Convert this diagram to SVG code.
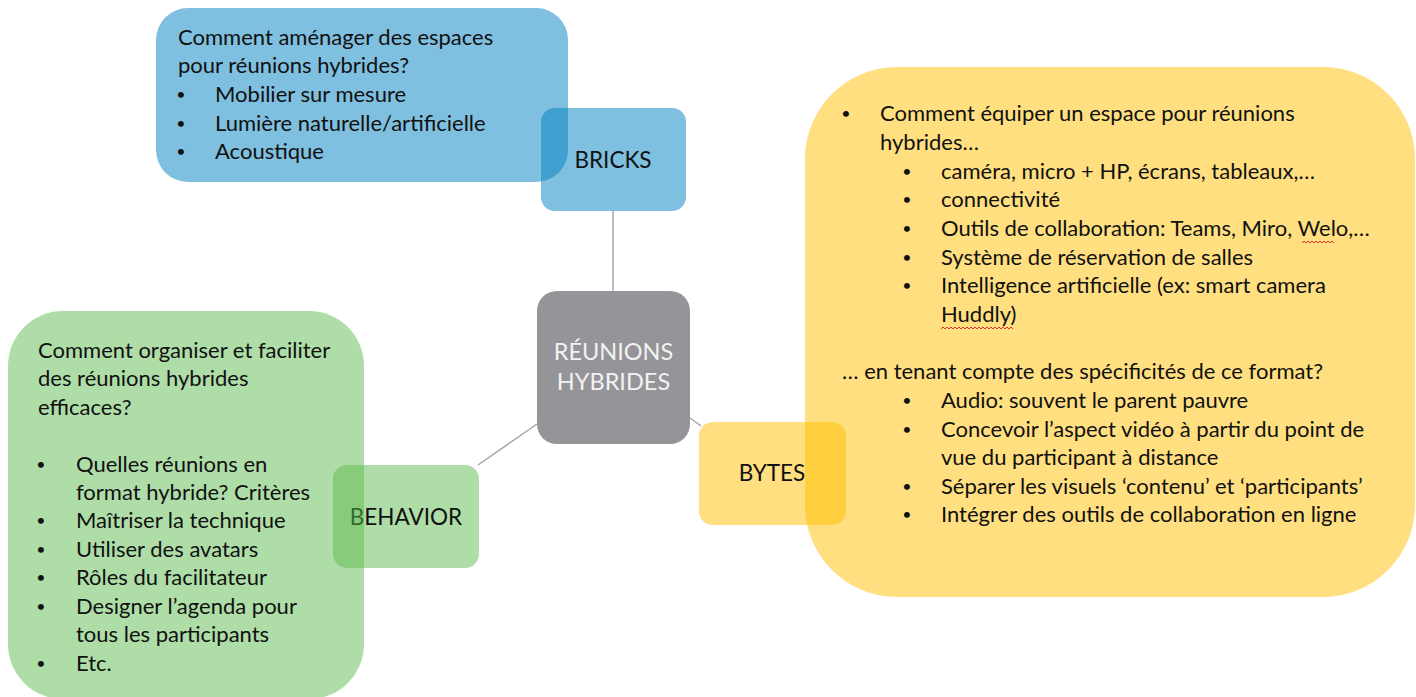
<svg xmlns="http://www.w3.org/2000/svg" width="1416" height="697" viewBox="0 0 1416 697">
<style>
.t{font-family:Lato,"Liberation Sans",sans-serif;font-size:22px;fill:#111}
.b{font-family:Lato,"Liberation Sans",sans-serif;font-size:16px;fill:#111;text-anchor:middle}
.h{font-family:Lato,"Liberation Sans",sans-serif;font-size:22.5px;fill:#111;text-anchor:middle}
.c{font-family:Lato,"Liberation Sans",sans-serif;font-size:23.5px;fill:#f2f2f2;text-anchor:middle}
.blue{fill:#0080c0;fill-opacity:0.5}
.green{fill:#5dbb4f;fill-opacity:0.5}
.yellow{fill:#ffc000;fill-opacity:0.5}
.conn{stroke:#a6a6a6;stroke-width:1.5;fill:none}
.sq{stroke:#e03030;stroke-width:1;fill:none}
</style>
<rect width="1416" height="697" fill="#fff"/>
<g id="connectors">
<line class="conn" x1="613" y1="211" x2="613" y2="291"/>
<line class="conn" x1="537" y1="424" x2="478" y2="465"/>
<line class="conn" x1="690" y1="418" x2="701" y2="426"/>
</g>
<g id="center">
<rect x="537" y="291" width="153" height="153" rx="20" fill="#949499"/>
<text class="c" x="613.5" y="360">RÉUNIONS</text>
<text class="c" x="613.5" y="390">HYBRIDES</text>
</g>
<g id="bricks">
<rect class="blue" x="541" y="108" width="145" height="103" rx="14"/>
<text class="h" x="613" y="168">BRICKS</text>
</g>
<g id="behavior">
<rect class="green" x="333" y="465" width="146" height="103" rx="14"/>
<text class="h" x="406" y="525">BEHAVIOR</text>
</g>
<g id="bytes">
<rect class="yellow" x="699" y="422" width="147" height="103" rx="14"/>
<text class="h" x="772" y="481">BYTES</text>
</g>
<g id="bricks-detail">
<rect class="blue" x="156" y="8" width="412" height="174" rx="32"/>
<text class="t" x="178" y="45">Comment aménager des espaces</text>
<text class="t" x="178" y="73">pour réunions hybrides?</text>
<text class="b" x="181" y="100">•</text><text class="t" x="215" y="102">Mobilier sur mesure</text>
<text class="b" x="181" y="129">•</text><text class="t" x="215" y="131">Lumière naturelle/artificielle</text>
<text class="b" x="181" y="157">•</text><text class="t" x="215" y="159">Acoustique</text>
</g>
<g id="behavior-detail">
<rect class="green" x="8" y="311" width="356" height="388" rx="55"/>
<text class="t" x="38" y="358">Comment organiser et faciliter</text>
<text class="t" x="38" y="386">des réunions hybrides</text>
<text class="t" x="38" y="415">efficaces?</text>
<text class="b" x="41" y="470">•</text><text class="t" x="76" y="472">Quelles réunions en</text>
<text class="t" x="76" y="500">format hybride? Critères</text>
<text class="b" x="41" y="526">•</text><text class="t" x="76" y="528">Maîtriser la technique</text>
<text class="b" x="41" y="555">•</text><text class="t" x="76" y="557">Utiliser des avatars</text>
<text class="b" x="41" y="583">•</text><text class="t" x="76" y="585">Rôles du facilitateur</text>
<text class="b" x="41" y="612">•</text><text class="t" x="76" y="614">Designer l’agenda pour</text>
<text class="t" x="76" y="642">tous les participants</text>
<text class="b" x="41" y="669">•</text><text class="t" x="76" y="671">Etc.</text>
</g>
<g id="bytes-detail">
<rect class="yellow" x="805" y="67" width="610" height="530" rx="92"/>
<text class="b" x="846" y="119">•</text><text class="t" x="880" y="121">Comment équiper un espace pour réunions</text>
<text class="t" x="880" y="150">hybrides…</text>
<text class="b" x="907" y="177">•</text><text class="t" x="941" y="179">caméra, micro + HP, écrans, tableaux,…</text>
<text class="b" x="907" y="205">•</text><text class="t" x="941" y="207">connectivité</text>
<text class="b" x="907" y="234">•</text><text class="t" x="941" y="236">Outils de collaboration: Teams, Miro, Welo,…</text>
<text class="b" x="907" y="263">•</text><text class="t" x="941" y="265">Système de réservation de salles</text>
<text class="b" x="907" y="291">•</text><text class="t" x="941" y="293">Intelligence artificielle (ex: smart camera</text>
<text class="t" x="941" y="322">Huddly)</text>
<text class="t" x="842" y="379">… en tenant compte des spécificités de ce format?</text>
<text class="b" x="907" y="406">•</text><text class="t" x="941" y="408">Audio: souvent le parent pauvre</text>
<text class="b" x="907" y="435">•</text><text class="t" x="941" y="437">Concevoir l’aspect vidéo à partir du point de</text>
<text class="t" x="941" y="465">vue du participant à distance</text>
<text class="b" x="907" y="492">•</text><text class="t" x="941" y="494">Séparer les visuels ‘contenu’ et ‘participants’</text>
<text class="b" x="907" y="520">•</text><text class="t" x="941" y="522">Intégrer des outils de collaboration en ligne</text>
<path class="sq" d="M1302,243 l2,-2 l2,2 l2,-2 l2,2 l2,-2 l2,2 l2,-2 l2,2 l2,-2 l2,2 l2,-2 l2,2 l2,-2 l2,2 l2,-2 l2,2"/>
<path class="sq" d="M941,329 l2,-2 l2,2 l2,-2 l2,2 l2,-2 l2,2 l2,-2 l2,2 l2,-2 l2,2 l2,-2 l2,2 l2,-2 l2,2 l2,-2 l2,2 l2,-2 l2,2 l2,-2 l2,2 l2,-2 l2,2 l2,-2 l2,2 l2,-2 l2,2 l2,-2 l2,2 l2,-2 l2,2 l2,-2 l2,2 l2,-2 l2,2 l2,-2 l2,2"/>
</g>
</svg>
